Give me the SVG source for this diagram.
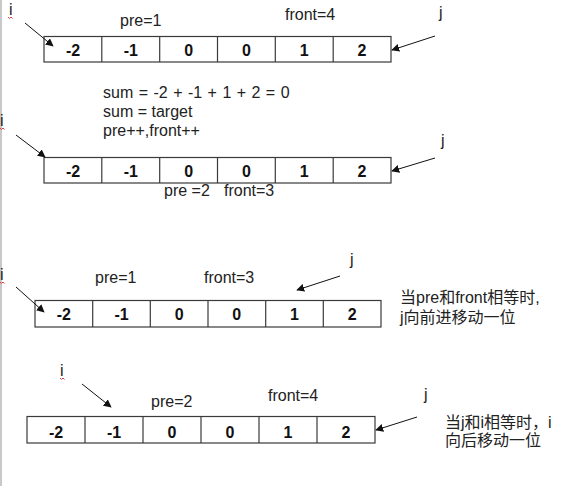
<svg xmlns="http://www.w3.org/2000/svg" width="572" height="486" viewBox="0 0 572 486">
<style>
.cell{fill:#fff;stroke:#3a3a3a;stroke-width:1.2}
.num{font-family:"Liberation Sans",Arial,sans-serif;font-weight:bold;font-size:16px;fill:#111;text-anchor:middle}
.lbl{font-family:"Liberation Sans",Arial,"Noto Sans CJK SC",sans-serif;font-size:16px;fill:#222}
.cjk{font-family:"Liberation Sans","Noto Sans CJK SC",sans-serif;font-size:16px;fill:#222}
.arr{stroke:#111;stroke-width:1;fill:none;marker-end:url(#ah)}
.sq{stroke:#e04040;stroke-width:1;fill:none}
</style>
<defs>
<marker id="ah" viewBox="0 0 10 10" refX="9" refY="5" markerWidth="8" markerHeight="8" orient="auto" markerUnits="userSpaceOnUse">
<path d="M0,0 L10,5 L0,10 z" fill="#111"/>
</marker>
</defs>
<rect x="0" y="0" width="572" height="486" fill="#fff"/>
<line x1="1" y1="0" x2="1" y2="486" stroke="#c8c8c8" stroke-width="2"/>

<g id="array1">
<rect class="cell" x="44" y="36.5" width="347" height="25.5"/>
<g stroke="#3a3a3a" stroke-width="1.2"><line x1="101.8" y1="36.5" x2="101.8" y2="62"/><line x1="159.7" y1="36.5" x2="159.7" y2="62"/><line x1="217.5" y1="36.5" x2="217.5" y2="62"/><line x1="275.3" y1="36.5" x2="275.3" y2="62"/><line x1="333.2" y1="36.5" x2="333.2" y2="62"/></g>
<text class="num" x="73" y="56">-2</text><text class="num" x="130.8" y="56">-1</text><text class="num" x="188.6" y="56">0</text><text class="num" x="246.4" y="56">0</text><text class="num" x="304.2" y="56">1</text><text class="num" x="362" y="56">2</text>
</g>
<g id="labels1">
<text class="lbl" x="9" y="15">i</text><path class="sq" d="M8,17 l1.5,1.5 l1.5,-1.5 l1.5,1.5"/>
<text class="lbl" x="120" y="26">pre=1</text>
<text class="lbl" x="285" y="20">front=4</text>
<text class="lbl" x="439" y="18">j</text>
</g>

<g id="notes">
<text class="lbl" x="103" y="98" style="word-spacing:1px">sum = -2 + -1 + 1 + 2 = 0</text>
<text class="lbl" x="103" y="117">sum = target</text>
<text class="lbl" x="103" y="136">pre++,front++</text>
</g>

<g id="array2">
<rect class="cell" x="44" y="157.5" width="347" height="25.5"/>
<g stroke="#3a3a3a" stroke-width="1.2"><line x1="101.8" y1="157.5" x2="101.8" y2="183"/><line x1="159.7" y1="157.5" x2="159.7" y2="183"/><line x1="217.5" y1="157.5" x2="217.5" y2="183"/><line x1="275.3" y1="157.5" x2="275.3" y2="183"/><line x1="333.2" y1="157.5" x2="333.2" y2="183"/></g>
<text class="num" x="73" y="177">-2</text><text class="num" x="130.8" y="177">-1</text><text class="num" x="188.6" y="177">0</text><text class="num" x="246.4" y="177">0</text><text class="num" x="304.2" y="177">1</text><text class="num" x="362" y="177">2</text>
</g>
<g id="labels2">
<text class="lbl" x="0" y="126">i</text><path class="sq" d="M0,128 l1.5,1.5 l1.5,-1.5 l1.5,1.5"/>
<text class="lbl" x="164" y="196">pre =2</text>
<text class="lbl" x="224" y="196">front=3</text>
<text class="lbl" x="441" y="146">j</text>
</g>

<g id="array3">
<rect class="cell" x="35" y="300.5" width="346" height="26.5"/>
<g stroke="#3a3a3a" stroke-width="1.2"><line x1="92.7" y1="300.5" x2="92.7" y2="327"/><line x1="150.3" y1="300.5" x2="150.3" y2="327"/><line x1="208" y1="300.5" x2="208" y2="327"/><line x1="265.7" y1="300.5" x2="265.7" y2="327"/><line x1="323.3" y1="300.5" x2="323.3" y2="327"/></g>
<text class="num" x="63.8" y="320">-2</text><text class="num" x="121.5" y="320">-1</text><text class="num" x="179.2" y="320">0</text><text class="num" x="236.8" y="320">0</text><text class="num" x="294.5" y="320">1</text><text class="num" x="352.2" y="320">2</text>
</g>
<g id="labels3">
<text class="lbl" x="0" y="280">i</text><path class="sq" d="M0,282 l1.5,1.5 l1.5,-1.5 l1.5,1.5"/>
<text class="lbl" x="95" y="283">pre=1</text>
<text class="lbl" x="204" y="283">front=3</text>
<text class="lbl" x="350" y="265">j</text>
<text class="cjk" x="400" y="303">当pre和front相等时,</text>
<text class="cjk" x="400" y="323">j向前进移动一位</text>
</g>

<g id="array4">
<rect class="cell" x="27" y="416.5" width="348" height="26.5"/>
<g stroke="#3a3a3a" stroke-width="1.2"><line x1="85" y1="416.5" x2="85" y2="443"/><line x1="143" y1="416.5" x2="143" y2="443"/><line x1="201" y1="416.5" x2="201" y2="443"/><line x1="259" y1="416.5" x2="259" y2="443"/><line x1="317" y1="416.5" x2="317" y2="443"/></g>
<text class="num" x="56" y="438">-2</text><text class="num" x="114" y="438">-1</text><text class="num" x="172" y="438">0</text><text class="num" x="230" y="438">0</text><text class="num" x="288" y="438">1</text><text class="num" x="346" y="438">2</text>
</g>
<g id="labels4">
<text class="lbl" x="60" y="376">i</text><path class="sq" d="M60,378 l1.5,1.5 l1.5,-1.5 l1.5,1.5"/>
<text class="lbl" x="151" y="407">pre=2</text>
<text class="lbl" x="268" y="401">front=4</text>
<text class="lbl" x="424" y="400">j</text>
<text class="cjk" x="445" y="428">当j和i相等时，i</text>
<text class="cjk" x="445" y="446">向后移动一位</text>
</g>

<g id="connectors">
<line class="arr" x1="25" y1="23" x2="53" y2="46"/>
<line class="arr" x1="435" y1="36" x2="392" y2="50"/>
<line class="arr" x1="16" y1="135" x2="45" y2="157"/>
<line class="arr" x1="435" y1="158" x2="392" y2="171"/>
<line class="arr" x1="16" y1="287" x2="44" y2="312"/>
<line class="arr" x1="340" y1="276" x2="297" y2="290"/>
<line class="arr" x1="82" y1="384" x2="111" y2="407"/>
<line class="arr" x1="417" y1="417" x2="376" y2="430"/>
</g>
</svg>
